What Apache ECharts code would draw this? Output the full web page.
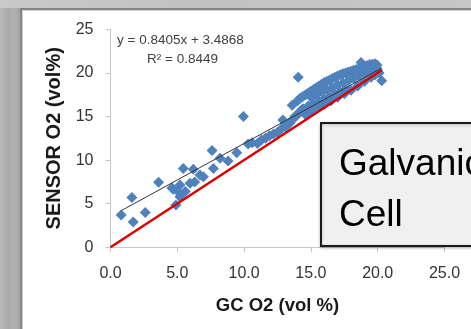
<!DOCTYPE html>
<html>
<head>
<meta charset="utf-8">
<script src="https://cdn.jsdelivr.net/npm/echarts@6/dist/echarts.min.js"></script>
<style>
  html, body { margin: 0; padding: 0; }
  body {
    width: 471px; height: 329px; position: relative; overflow: hidden;
    background: linear-gradient(90deg, #b9b9b9 0px, #a9a9a9 8px, #b3b3b3 14px, #a4a4a4 20px);
  }
  .top-strip {
    position: absolute; left: 0; top: 0; width: 471px; height: 8px;
    background: linear-gradient(90deg, #c9c9c9, #c2c2c2 40%, #c6c6c6);
  }
  .frame {
    position: absolute; left: 20px; top: 8px; width: 451px; height: 321px;
    border-left: 2px solid #858585; border-top: 2px solid #858585;
    box-shadow: inset 1px 1px 0 #d0d0d0;
    background: #fff;
  }
  #chart { position: absolute; left: 0; top: 0; width: 471px; height: 329px; }
</style>
</head>
<body>
<div class="top-strip"></div>
<div class="frame"></div>
<div id="chart"></div>
<script>
// GC O2 vs sensor O2 (vol %)
const gcO2 = [
  0.8, 1.6, 1.7, 2.6, 3.6, 4.6, 4.7, 4.9, 5.05, 5.2, 5.2, 5.45, 5.6, 5.95, 6.2, 6.3, 6.7, 6.95,
  7.6, 7.7, 8.2, 8.8, 9.45, 9.95, 10.3, 10.6,
  11.0, 11.3, 11.6, 11.9, 12.2, 12.5, 12.8, 13.1, 12.9, 13.4, 13.6, 13.8, 13.6, 14.0, 14.2, 14.4,
  14.0, 14.2, 14.4, 14.6, 14.8, 15.0, 15.2, 15.4, 15.6, 15.8, 16.0, 16.2, 16.4, 16.6, 16.8,
  17.0, 17.2, 17.4, 17.6, 17.8, 18.0, 18.2, 18.4, 18.6, 18.8, 19.0, 19.2, 19.4, 19.6, 19.8,
  15.0, 15.4, 15.8, 16.2, 16.6, 17.0, 17.4, 17.8,
  14.4, 14.8, 15.2, 15.6, 16.0, 16.4, 16.8, 17.2, 17.6,
  14.6, 15.0, 15.5, 16.0, 16.5, 17.0, 17.5, 18.0, 18.5, 19.0, 19.5, 19.8,
  18.2, 18.6, 19.0, 19.4, 19.9, 20.0, 20.1, 18.75, 19.95, 20.3, 14.05
];
const sensorO2 = [
  3.7, 5.7, 2.9, 4.0, 7.45, 6.8, 6.65, 4.85, 6.4, 7.15, 5.8, 9.05, 6.4, 7.35, 8.95, 7.5, 8.3, 8.1,
  11.1, 9.05, 10.2, 9.9, 10.85, 15.0, 11.85, 12.0,
  11.9, 12.3, 12.5, 12.8, 13.0, 13.2, 13.6, 13.8, 14.6, 14.2, 14.6, 15.0, 16.3, 15.2, 15.6, 15.8,
  16.8, 17.1, 17.3, 17.5, 17.7, 17.9, 18.1, 18.3, 18.5, 18.7, 18.9, 19.05, 19.2, 19.35, 19.5,
  19.65, 19.8, 19.9, 20.0, 20.1, 20.2, 20.3, 20.4, 20.5, 20.65, 20.75, 20.85, 20.95, 21.0, 21.05,
  17.25, 17.5, 17.8, 18.05, 18.3, 18.6, 18.85, 19.1,
  15.9, 16.2, 16.45, 16.75, 17.0, 17.25, 17.55, 17.8, 18.1,
  15.2, 15.6, 16.0, 16.4, 16.8, 17.2, 17.6, 18.0, 18.5, 19.0, 19.5, 19.8,
  19.4, 19.7, 20.0, 20.2, 20.6, 20.3, 20.0, 21.2, 20.9, 19.1, 19.5
];
// linear fit drawn by Excel, endpoints
const trendX = [0.8, 20.3];
const trendY = [4.2, 20.55];
// 1:1 reference line
const idealX = [0, 20.3];
const idealY = [0, 20.3];

const xTicks = ['0.0', '5.0', '10.0', '15.0', '20.0', '25.0'];
const eqText = 'y = 0.8405x + 3.4868';
const r2Text = 'R\u00b2 = 0.8449';
const boxText = ['Galvanic', 'Cell'];

const pts = gcO2.map((x, i) => [x, sensorO2[i]]);
const pairs = (xs, ys) => xs.map((x, i) => [x, ys[i]]);

const chart = echarts.init(document.getElementById('chart'));
const font = '"Liberation Sans", Arial, sans-serif';

chart.setOption({
  animation: false,
  grid: { left: 110.5, right: 26.5, top: 29.3, bottom: 81.7, containLabel: false, outerBoundsMode: 'none' },
  xAxis: {
    type: 'value', min: 0, max: 25, interval: 5,
    name: 'GC O2 (vol %)', nameLocation: 'middle', nameGap: 49,
    nameTextStyle: { fontFamily: font, fontWeight: 'bold', fontSize: 18.5, color: '#1a1a1a' },
    axisLine: { lineStyle: { color: '#c8c8c8', width: 1 } },
    axisTick: { show: true, length: 5, lineStyle: { color: '#c8c8c8' } },
    splitLine: { show: false },
    axisLabel: {
      margin: 18, fontFamily: font, fontSize: 16, color: '#333',
      formatter: (v) => xTicks[Math.round(v / 5)]
    }
  },
  yAxis: {
    type: 'value', min: 0, max: 25, interval: 5,
    name: 'SENSOR O2 (vol%)', nameLocation: 'middle', nameGap: 37,
    nameTextStyle: { fontFamily: font, fontWeight: 'bold', fontSize: 20, color: '#1a1a1a' },
    axisLine: { show: true, lineStyle: { color: '#c8c8c8', width: 1 } },
    axisTick: { show: true, length: 5, lineStyle: { color: '#c8c8c8' } },
    splitLine: { show: false },
    axisLabel: { margin: 17, fontFamily: font, fontSize: 16, color: '#333' }
  },
  series: [
    {
      type: 'line', data: pairs(idealX, idealY), symbol: 'none',
      lineStyle: { color: '#dd0000', width: 2.5 }
    },
    {
      type: 'scatter', data: pts, symbol: 'diamond', symbolSize: 11,
      itemStyle: { color: '#4f81bd', opacity: 1 }
    },
    {
      type: 'line', data: pairs(trendX, trendY), symbol: 'none',
      lineStyle: { color: '#333333', width: 1 }
    }
  ],
  graphic: [
    {
      type: 'text', left: 117, top: 33,
      style: { text: eqText, font: '13.5px ' + font, fill: '#404040' }
    },
    {
      type: 'text', left: 147, top: 52,
      style: { text: r2Text, font: '13.5px ' + font, fill: '#404040' }
    },
    {
      type: 'rect', z: 100,
      shape: { x: 321, y: 123, width: 170, height: 123 },
      style: { fill: '#f0f0f0', stroke: '#1a1a1a', lineWidth: 2, shadowBlur: 3, shadowColor: 'rgba(0,0,0,0.25)', shadowOffsetY: 1 }
    },
    {
      type: 'text', z: 101, left: 339, top: 139,
      style: { text: boxText.join('\n'), font: '37px ' + font, fill: '#000', lineHeight: 51 }
    }
  ]
});
</script>
</body>
</html>
